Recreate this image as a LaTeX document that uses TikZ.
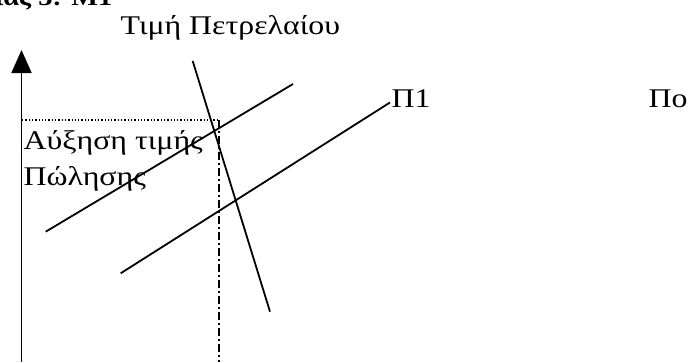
\documentclass[tikz,border=0pt]{standalone}
\usepackage{fontspec}
\setmainfont{Liberation Serif}
\usetikzlibrary{arrows.meta}
\newcommand{\wide}[1]{\scalebox{1.18}[1]{#1}}
\begin{document}
\begin{tikzpicture}[x=1pt,y=-1pt,line width=1.3pt,
  lbl/.style={inner sep=0pt,anchor=base west,font=\fontsize{27}{32}\selectfont},
  curve/.style={line width=1.8pt},
  guide/.style={line width=1.3pt,dotted},
  dropline/.style={line width=1.4pt,dash pattern=on 8pt off 3pt on 2pt off 3pt}]
\useasboundingbox (0,0) rectangle (691,362);
\begin{scope}
  \clip (0,0) rectangle (691,362);
  \node[anchor=base west,inner sep=0pt,font=\bfseries\fontsize{24}{28}\selectfont] (hdr) at (-6,5) {\wide{ιας 3: Μ1}};
\end{scope}
% axis
\coordinate (axb) at (21.5,362);
\coordinate (axt) at (21.5,50);
\draw[line width=1.8pt,-{Triangle[width=20pt,length=23pt]}] (axb) -- (axt);
% guides
\coordinate (g1) at (22,120);
\coordinate (g2) at (219,120);
\coordinate (g3) at (219,362);
\draw[guide] (g1) -- (g2);
\draw[dropline] (g2) -- (g3);
% labels
\node[lbl] (price) at (120,34) {\wide{Τιμή Πετρελαίου}};
\node[lbl] (incr) at (23,149) {\wide{Αύξηση τιμής}};
\node[lbl] (sale) at (23,185.5) {\wide{Πώλησης}};
\node[lbl] (p1lab) at (391,107) {\wide{Π1}};
\node[lbl] (p0lab) at (648,107) {\wide{Πο}};
% lines
\coordinate (a1) at (45.7,231.7);
\coordinate (a2) at (293,84);
\coordinate (b1) at (120.7,273.3);
\coordinate (b2) at (390,102.5);
\coordinate (q1) at (192.7,61);
\coordinate (q2) at (270,311.7);
\draw[curve] (a1) -- (a2);
\draw[curve] (b1) -- (b2);
\draw[curve] (q1) -- (q2);
\end{tikzpicture}
\end{document}
